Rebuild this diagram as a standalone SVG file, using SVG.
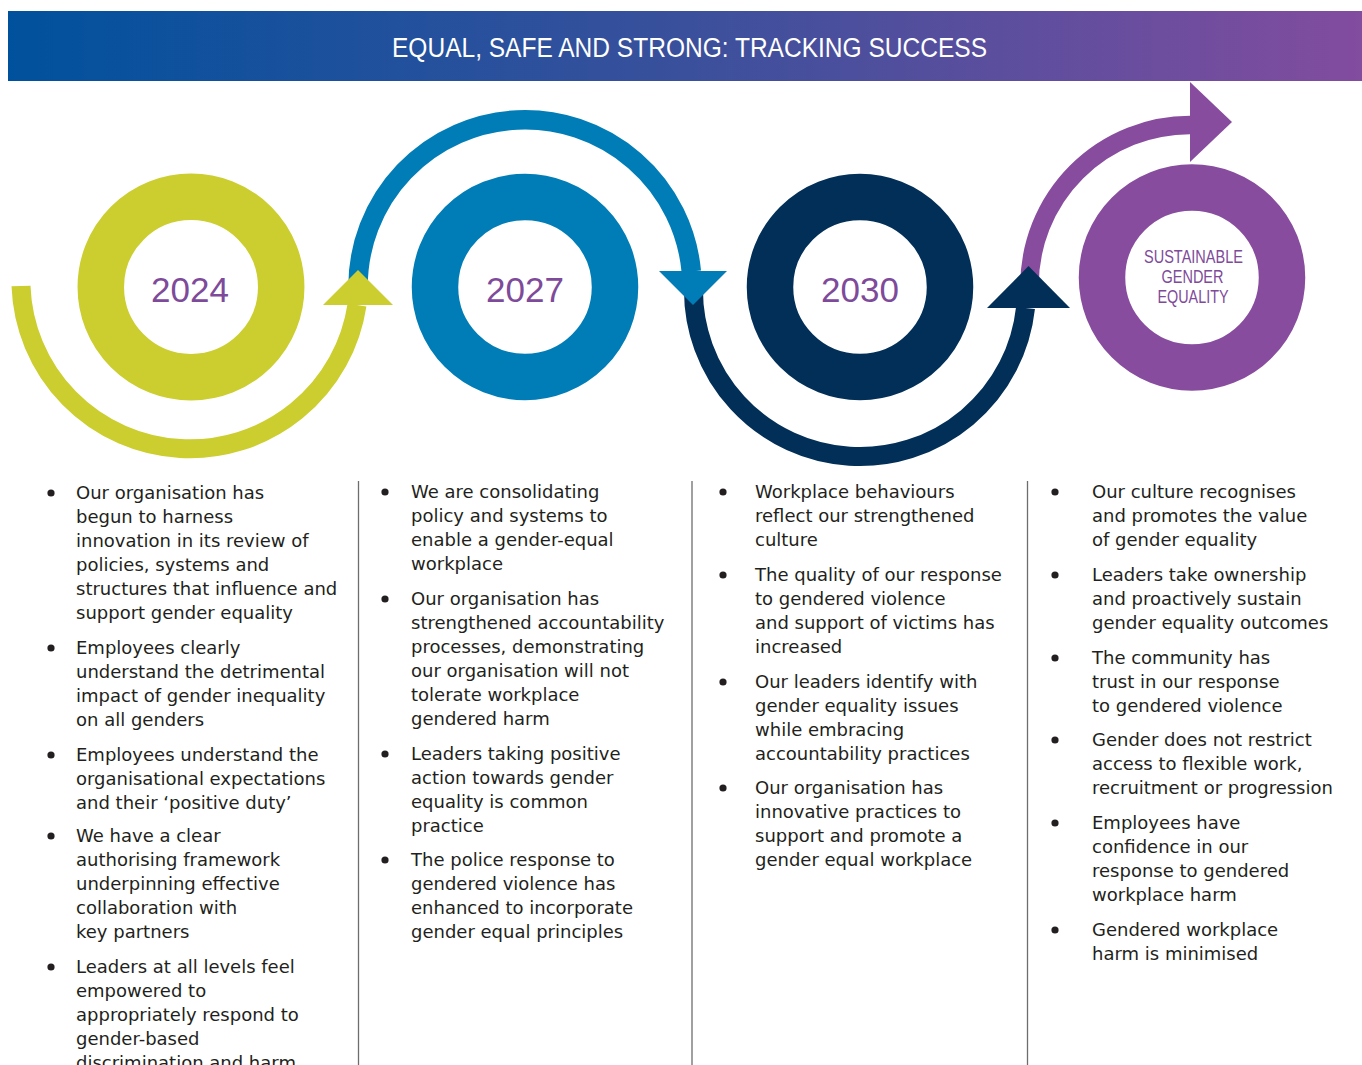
<svg xmlns="http://www.w3.org/2000/svg" width="1362" height="1065" viewBox="0 0 1362 1065">
<defs>
<linearGradient id="hdr" x1="0" y1="0" x2="1" y2="0">
<stop offset="0" stop-color="#00519d"/>
<stop offset="0.5" stop-color="#3a509c"/>
<stop offset="1" stop-color="#824c9f"/>
</linearGradient>
<style>
.body{font-family:"DejaVu Sans","Liberation Sans",sans-serif;font-size:18px;fill:#231f20}
.yr{font-family:"Liberation Sans",Arial,sans-serif;font-size:35px;fill:#7e4a9a;text-anchor:middle}
.sg{font-family:"Liberation Sans",Arial,sans-serif;font-size:18px;fill:#7e4a9a;text-anchor:middle}
.div{stroke:#6d6d6d;stroke-width:1.3}
.bul{fill:#231f20}
</style>
</defs>
<rect x="8" y="11" width="1354" height="70" fill="url(#hdr)"/>
<text x="689.5" y="57" font-family="Liberation Sans, Arial, sans-serif" font-size="27" fill="#ffffff" text-anchor="middle" textLength="595" lengthAdjust="spacingAndGlyphs">EQUAL, SAFE AND STRONG: TRACKING SUCCESS</text>

<g id="connectors" fill="none">
<path d="M 21 286 A 169 169 0 0 0 357 305" stroke="#cbce2e" stroke-width="19"/>
<path d="M 358 287 A 167 167 0 0 1 691.3 271.5" stroke="#007db7" stroke-width="19.5"/>
<path d="M 693.5 287 A 166.5 166.5 0 0 0 1025.5 308" stroke="#022f57" stroke-width="19"/>
<path d="M 1029.5 285.5 A 160.5 160.5 0 0 1 1190 125" stroke="#884c9e" stroke-width="18.5"/>
<polygon points="323,305 393,305 358,270" fill="#cbce2e" stroke="none"/>
<polygon points="659,271 727,271 693,305" fill="#007db7" stroke="none"/>
<polygon points="987,308 1070,308 1028.5,266" fill="#022f57" stroke="none"/>
<polygon points="1190,82 1190,162 1232,122" fill="#884c9e" stroke="none"/>
</g>

<g id="node-2024">
<circle cx="191" cy="287" r="90.2" fill="none" stroke="#cbce2e" stroke-width="46.5"/>
<text class="yr" x="190" y="302">2024</text>
</g>
<g id="node-2027">
<circle cx="525" cy="287" r="90" fill="none" stroke="#007db7" stroke-width="46.5"/>
<text class="yr" x="525" y="302">2027</text>
</g>
<g id="node-2030">
<circle cx="860" cy="287" r="90" fill="none" stroke="#022f57" stroke-width="46.5"/>
<text class="yr" x="860" y="302">2030</text>
</g>
<g id="node-sustainable">
<circle cx="1192" cy="277.5" r="90" fill="none" stroke="#884c9e" stroke-width="46.5"/>
<text class="sg" x="1193.5" y="263" textLength="99" lengthAdjust="spacingAndGlyphs">SUSTAINABLE</text>
<text class="sg" x="1192.5" y="283" textLength="62" lengthAdjust="spacingAndGlyphs">GENDER</text>
<text class="sg" x="1193" y="303" textLength="71" lengthAdjust="spacingAndGlyphs">EQUALITY</text>
</g>

<g id="dividers">
<line class="div" x1="358.5" y1="481" x2="358.5" y2="1065"/>
<line class="div" x1="692" y1="481" x2="692" y2="1065"/>
<line class="div" x1="1027.5" y1="481" x2="1027.5" y2="1065"/>
</g>

<g id="col-2024">
<circle class="bul" cx="51" cy="493" r="3.6"/>
<circle class="bul" cx="51" cy="648" r="3.6"/>
<circle class="bul" cx="51" cy="755" r="3.6"/>
<circle class="bul" cx="51" cy="836" r="3.6"/>
<circle class="bul" cx="51" cy="967" r="3.6"/>
<text class="body" x="76" y="499">Our organisation has</text>
<text class="body" x="76" y="523">begun to harness</text>
<text class="body" x="76" y="547">innovation in its review of</text>
<text class="body" x="76" y="571">policies, systems and</text>
<text class="body" x="76" y="595">structures that influence and</text>
<text class="body" x="76" y="619">support gender equality</text>
<text class="body" x="76" y="654">Employees clearly</text>
<text class="body" x="76" y="678">understand the detrimental</text>
<text class="body" x="76" y="702">impact of gender inequality</text>
<text class="body" x="76" y="726">on all genders</text>
<text class="body" x="76" y="761">Employees understand the</text>
<text class="body" x="76" y="785">organisational expectations</text>
<text class="body" x="76" y="809">and their ‘positive duty’</text>
<text class="body" x="76" y="842">We have a clear</text>
<text class="body" x="76" y="866">authorising framework</text>
<text class="body" x="76" y="890">underpinning effective</text>
<text class="body" x="76" y="914">collaboration with</text>
<text class="body" x="76" y="938">key partners</text>
<text class="body" x="76" y="973">Leaders at all levels feel</text>
<text class="body" x="76" y="997">empowered to</text>
<text class="body" x="76" y="1021">appropriately respond to</text>
<text class="body" x="76" y="1045">gender-based</text>
<text class="body" x="76" y="1069">discrimination and harm</text>
</g>

<g id="col-2027">
<circle class="bul" cx="385" cy="492" r="3.6"/>
<circle class="bul" cx="385" cy="599" r="3.6"/>
<circle class="bul" cx="385" cy="754" r="3.6"/>
<circle class="bul" cx="385" cy="860" r="3.6"/>
<text class="body" x="411" y="498">We are consolidating</text>
<text class="body" x="411" y="522">policy and systems to</text>
<text class="body" x="411" y="546">enable a gender-equal</text>
<text class="body" x="411" y="570">workplace</text>
<text class="body" x="411" y="605">Our organisation has</text>
<text class="body" x="411" y="629">strengthened accountability</text>
<text class="body" x="411" y="653">processes, demonstrating</text>
<text class="body" x="411" y="677">our organisation will not</text>
<text class="body" x="411" y="701">tolerate workplace</text>
<text class="body" x="411" y="725">gendered harm</text>
<text class="body" x="411" y="760">Leaders taking positive</text>
<text class="body" x="411" y="784">action towards gender</text>
<text class="body" x="411" y="808">equality is common</text>
<text class="body" x="411" y="832">practice</text>
<text class="body" x="411" y="866">The police response to</text>
<text class="body" x="411" y="890">gendered violence has</text>
<text class="body" x="411" y="914">enhanced to incorporate</text>
<text class="body" x="411" y="938">gender equal principles</text>
</g>

<g id="col-2030">
<circle class="bul" cx="723" cy="492" r="3.6"/>
<circle class="bul" cx="723" cy="575" r="3.6"/>
<circle class="bul" cx="723" cy="682" r="3.6"/>
<circle class="bul" cx="723" cy="788" r="3.6"/>
<text class="body" x="755" y="498">Workplace behaviours</text>
<text class="body" x="755" y="522">reflect our strengthened</text>
<text class="body" x="755" y="546">culture</text>
<text class="body" x="755" y="581">The quality of our response</text>
<text class="body" x="755" y="605">to gendered violence</text>
<text class="body" x="755" y="629">and support of victims has</text>
<text class="body" x="755" y="653">increased</text>
<text class="body" x="755" y="688">Our leaders identify with</text>
<text class="body" x="755" y="712">gender equality issues</text>
<text class="body" x="755" y="736">while embracing</text>
<text class="body" x="755" y="760">accountability practices</text>
<text class="body" x="755" y="794">Our organisation has</text>
<text class="body" x="755" y="818">innovative practices to</text>
<text class="body" x="755" y="842">support and promote a</text>
<text class="body" x="755" y="866">gender equal workplace</text>
</g>

<g id="col-sustainable">
<circle class="bul" cx="1055" cy="492" r="3.6"/>
<circle class="bul" cx="1055" cy="575" r="3.6"/>
<circle class="bul" cx="1055" cy="658" r="3.6"/>
<circle class="bul" cx="1055" cy="740" r="3.6"/>
<circle class="bul" cx="1055" cy="823" r="3.6"/>
<circle class="bul" cx="1055" cy="930" r="3.6"/>
<text class="body" x="1092" y="498">Our culture recognises</text>
<text class="body" x="1092" y="522">and promotes the value</text>
<text class="body" x="1092" y="546">of gender equality</text>
<text class="body" x="1092" y="581">Leaders take ownership</text>
<text class="body" x="1092" y="605">and proactively sustain</text>
<text class="body" x="1092" y="629">gender equality outcomes</text>
<text class="body" x="1092" y="664">The community has</text>
<text class="body" x="1092" y="688">trust in our response</text>
<text class="body" x="1092" y="712">to gendered violence</text>
<text class="body" x="1092" y="746">Gender does not restrict</text>
<text class="body" x="1092" y="770">access to flexible work,</text>
<text class="body" x="1092" y="794">recruitment or progression</text>
<text class="body" x="1092" y="829">Employees have</text>
<text class="body" x="1092" y="853">confidence in our</text>
<text class="body" x="1092" y="877">response to gendered</text>
<text class="body" x="1092" y="901">workplace harm</text>
<text class="body" x="1092" y="936">Gendered workplace</text>
<text class="body" x="1092" y="960">harm is minimised</text>
</g>
</svg>
